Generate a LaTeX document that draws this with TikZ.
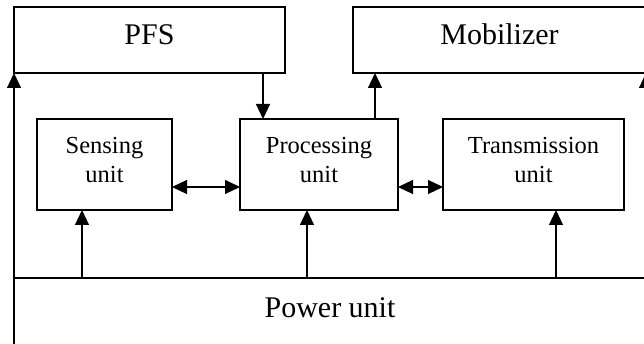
\documentclass[tikz,border=0pt]{standalone}
\usepackage{fontspec}
\setmainfont{Liberation Serif}
\usetikzlibrary{arrows.meta}
\begin{document}
\begin{tikzpicture}[x=1pt,y=-1pt,
  unitbox/.style={draw,line width=1.2pt,inner sep=0pt,outer sep=0pt,align=center},
  bigbox/.style={unitbox,font=\fontsize{30}{36}\selectfont,text height=20pt,text depth=10pt},
  smallbox/.style={unitbox,font=\fontsize{24.5}{29}\selectfont,
    text height=45.6pt,text depth=8.6pt,minimum height=91pt},
  link/.style={line width=1.2pt,-{Triangle[length=15pt,width=14pt]}},
  duplex/.style={line width=1.2pt,
    {Triangle[length=15pt,width=14pt]}-{Triangle[length=15pt,width=14pt]}}]
\clip (0,0) rectangle (644,344);

% top row
\node[bigbox,minimum width=271pt,minimum height=66pt] (pfs) at (149.5,40) {PFS};
\node[bigbox,minimum width=293pt,minimum height=66pt] (mob) at (499.5,40) {Mobilizer};

% middle row
\node[smallbox,minimum width=135pt] (sense) at (104.5,164.5) {Sensing\\unit};
\node[smallbox,minimum width=158pt] (proc) at (319,164.5) {Processing\\unit};
\node[smallbox,minimum width=181pt] (trans) at (533.5,164.5) {Transmission\\unit};

% bottom: power supply
\node[bigbox,minimum width=632pt,minimum height=68pt] (power) at (330,312) {Power unit};

% x positions of the vertical links
\coordinate (xs) at (82,0);
\coordinate (xp) at (307,0);
\coordinate (xt) at (556,0);
\coordinate (xin) at (263,0);
\coordinate (xout) at (375,0);
\coordinate (yd) at (0,187);

% power feeds
\draw[link] (power.north -| xs) -- (sense.south -| xs);
\draw[link] (power.north -| xp) -- (proc.south -| xp);
\draw[link] (power.north -| xt) -- (trans.south -| xt);
\draw[link] (power.north west) -- (pfs.south west);
\draw[link] (power.north east) -- (mob.south east);

% data paths
\draw[link] (pfs.south -| xin) -- (proc.north -| xin);
\draw[link] (proc.north -| xout) -- (mob.south -| xout);
\draw[duplex] (sense.east |- yd) -- (proc.west |- yd);
\draw[duplex] (proc.east |- yd) -- (trans.west |- yd);
\end{tikzpicture}
\end{document}
